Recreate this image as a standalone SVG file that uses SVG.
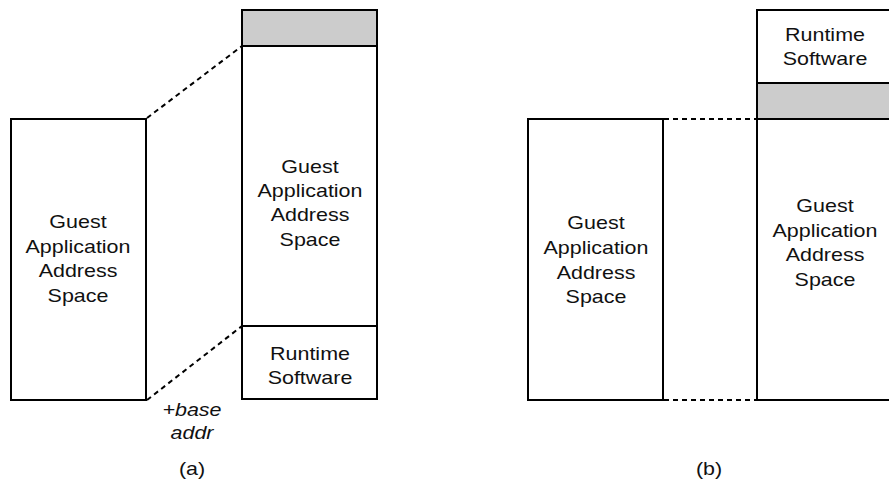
<svg xmlns="http://www.w3.org/2000/svg" width="889" height="483" viewBox="0 0 889 483">
<style>
.box{fill:#fff;stroke:#000;stroke-width:2}
.gray{fill:#cccccc;stroke:#000;stroke-width:2}
.ln{stroke:#000;stroke-width:2;fill:none}
.dash{stroke:#000;stroke-width:2;fill:none;stroke-dasharray:5 4}
text{font-family:"Liberation Sans",Arial,sans-serif;font-size:19px;fill:#111;text-anchor:middle}
.it{font-style:italic}
</style>
<rect width="889" height="483" fill="#fff"/>
<g id="connectors">
<line class="dash" x1="147" y1="118" x2="242" y2="46"/>
<line class="dash" x1="147" y1="400" x2="242" y2="326"/>
<line class="dash" x1="664" y1="119" x2="757" y2="119"/>
<line class="dash" x1="664" y1="400" x2="757" y2="400"/>
</g>
<g id="a-left">
<rect class="box" x="11" y="119" width="135" height="281"/>
<g transform="translate(78,0) scale(1.13,1)">
<text x="0" y="228">Guest</text>
<text x="0" y="253">Application</text>
<text x="0" y="277">Address</text>
<text x="0" y="302">Space</text>
</g>
</g>
<g id="a-right">
<rect class="box" x="242" y="10" width="135" height="389"/>
<rect class="gray" x="242" y="10" width="135" height="36"/>
<line class="ln" x1="242" y1="326" x2="377" y2="326"/>
<g transform="translate(310,0) scale(1.13,1)">
<text x="0" y="173">Guest</text>
<text x="0" y="197">Application</text>
<text x="0" y="221">Address</text>
<text x="0" y="246">Space</text>
<text x="0" y="360">Runtime</text>
<text x="0" y="384">Software</text>
</g>
</g>
<g id="a-label">
<g transform="translate(192,0) scale(1.13,1)">
<text class="it" x="0" y="416">+base</text>
<text class="it" x="0" y="439">addr</text>
<text x="0" y="475">(a)</text>
</g>
</g>
<g id="b-left">
<rect class="box" x="528" y="119" width="135" height="281"/>
<g transform="translate(596,0) scale(1.13,1)">
<text x="0" y="229">Guest</text>
<text x="0" y="254">Application</text>
<text x="0" y="279">Address</text>
<text x="0" y="303">Space</text>
</g>
</g>
<g id="b-right">
<rect class="box" x="757" y="10" width="136" height="390"/>
<rect class="gray" x="757" y="83" width="136" height="36"/>
<g transform="translate(825,0) scale(1.13,1)">
<text x="0" y="41">Runtime</text>
<text x="0" y="65">Software</text>
<text x="0" y="212">Guest</text>
<text x="0" y="237">Application</text>
<text x="0" y="261">Address</text>
<text x="0" y="286">Space</text>
</g>
</g>
<g id="b-label">
<g transform="translate(709,0) scale(1.13,1)">
<text x="0" y="475">(b)</text>
</g>
</g>
</svg>
